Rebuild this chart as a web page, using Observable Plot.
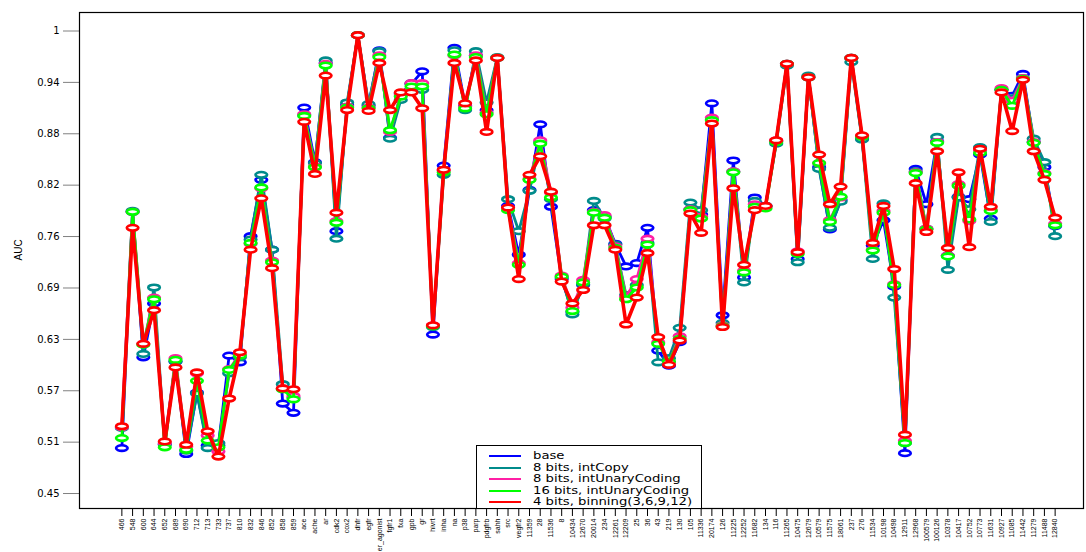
<!DOCTYPE html>
<html>
<head>
<meta charset="utf-8">
<script src="https://cdn.jsdelivr.net/npm/d3@7"></script>
<script src="https://cdn.jsdelivr.net/npm/@observablehq/plot@0.6"></script>
<style>
  html, body { margin: 0; padding: 0; background: #fff; }
  #wrap { position: relative; width: 1086px; height: 552px; overflow: hidden; }
  #legend { position: absolute; left: 476px; top: 445px; width: 224px; height: 62px;
    border: 1px solid #000; background: #fff; font-family: "DejaVu Sans", sans-serif; font-size: 10px; }
  #legend .row { position: absolute; left: 0; height: 11px; line-height: 11px; white-space: nowrap; }
  #legend .sw { position: absolute; left: 12px; top: 5px; width: 32px; height: 2px; }
  #legend .lab { position: absolute; left: 56px; top: 0; transform: scaleX(1.32); transform-origin: 0 50%; }
</style>
</head>
<body>
<div id="wrap"><div id="legend"></div></div>
<script>
const categories = ["466","548","600","644","652","689","690","712","713","733","737","810","832","846","852","858","859","ace","ache","ar","cdk2","cox2","dhfr","egfr","er_agonist","fgfr1","fxa","gpb","gr","hivrt","inha","na","p38","parp","pdgfrb","sahh","src","vegfr2","11359","28","11536","8","10434","12670","20014","234","12261","12209","25","36","43","219","130","105","11336","20174","126","11225","12252","11682","134","116","11265","10475","12679","10579","11575","18061","237","276","11534","10198","10498","12911","12968","100579","100126","10378","10417","10752","10773","11631","10927","11085","11442","11279","11488","12840"];

const seriesNames = ["base", "8 bits, intCopy", "8 bits, intUnaryCoding", "16 bits, intUnaryCoding", "4 bits, binning(3,6,9,12)"];
const seriesColors = ["#0000ff", "#008b8b", "#ff1fa5", "#00ff00", "#ff0000"];

const base = [0.504,0.785,0.612,0.676,0.509,0.607,0.497,0.570,0.507,0.507,0.614,0.606,0.756,0.823,0.740,0.557,0.546,0.909,0.844,0.962,0.762,0.912,0.995,0.911,0.977,0.873,0.926,0.937,0.952,0.639,0.840,0.980,0.911,0.971,0.906,0.968,0.792,0.734,0.811,0.889,0.791,0.705,0.666,0.698,0.787,0.779,0.747,0.720,0.724,0.766,0.620,0.602,0.630,0.788,0.782,0.914,0.662,0.846,0.707,0.802,0.792,0.869,0.961,0.729,0.945,0.838,0.764,0.799,0.968,0.872,0.745,0.775,0.696,0.498,0.836,0.794,0.869,0.733,0.803,0.800,0.853,0.777,0.930,0.923,0.949,0.868,0.838,0.768];
const intCopy8 = [0.528,0.786,0.616,0.695,0.508,0.607,0.501,0.569,0.504,0.510,0.593,0.612,0.752,0.829,0.740,0.580,0.564,0.900,0.843,0.965,0.753,0.915,0.995,0.913,0.976,0.872,0.918,0.938,0.930,0.648,0.829,0.977,0.906,0.976,0.915,0.969,0.800,0.762,0.810,0.868,0.800,0.707,0.663,0.699,0.798,0.777,0.746,0.686,0.698,0.748,0.606,0.611,0.647,0.796,0.787,0.895,0.653,0.833,0.701,0.798,0.792,0.866,0.959,0.725,0.947,0.836,0.766,0.797,0.963,0.871,0.729,0.795,0.683,0.510,0.833,0.765,0.874,0.716,0.802,0.788,0.862,0.773,0.930,0.920,0.944,0.872,0.844,0.756];
const unary8 = [0.529,0.785,0.628,0.683,0.510,0.611,0.506,0.593,0.519,0.500,0.598,0.615,0.747,0.813,0.727,0.575,0.566,0.901,0.839,0.961,0.774,0.910,0.995,0.909,0.971,0.880,0.924,0.938,0.938,0.650,0.834,0.971,0.910,0.971,0.903,0.968,0.790,0.724,0.824,0.870,0.808,0.709,0.671,0.704,0.785,0.781,0.744,0.684,0.705,0.753,0.630,0.606,0.637,0.788,0.779,0.897,0.650,0.833,0.715,0.794,0.791,0.870,0.961,0.738,0.945,0.843,0.775,0.802,0.968,0.875,0.740,0.786,0.699,0.513,0.832,0.765,0.868,0.733,0.818,0.774,0.858,0.787,0.932,0.917,0.944,0.868,0.831,0.771];
const unary16 = [0.516,0.785,0.627,0.681,0.505,0.609,0.502,0.584,0.513,0.505,0.597,0.614,0.748,0.814,0.725,0.574,0.562,0.899,0.838,0.959,0.772,0.909,0.995,0.908,0.969,0.882,0.922,0.934,0.934,0.649,0.832,0.972,0.908,0.969,0.901,0.968,0.787,0.722,0.823,0.866,0.802,0.708,0.667,0.701,0.784,0.778,0.742,0.681,0.695,0.746,0.628,0.607,0.634,0.787,0.777,0.894,0.649,0.832,0.713,0.791,0.789,0.868,0.961,0.735,0.945,0.843,0.773,0.803,0.968,0.874,0.739,0.784,0.698,0.510,0.831,0.764,0.867,0.732,0.816,0.776,0.855,0.786,0.930,0.911,0.943,0.867,0.830,0.769];
const binning4 = [0.530,0.766,0.628,0.668,0.512,0.600,0.508,0.594,0.524,0.494,0.563,0.618,0.740,0.801,0.718,0.575,0.574,0.892,0.830,0.947,0.784,0.906,0.995,0.905,0.962,0.906,0.927,0.927,0.908,0.650,0.835,0.962,0.914,0.965,0.880,0.968,0.790,0.705,0.829,0.851,0.809,0.702,0.676,0.692,0.769,0.769,0.740,0.651,0.683,0.736,0.636,0.603,0.632,0.783,0.760,0.890,0.648,0.813,0.722,0.787,0.792,0.870,0.961,0.737,0.945,0.853,0.794,0.815,0.968,0.876,0.748,0.792,0.717,0.520,0.819,0.761,0.857,0.742,0.832,0.743,0.860,0.791,0.927,0.881,0.942,0.857,0.823,0.778];

const yTicks = [0.45, 0.5111, 0.5722, 0.6333, 0.6944, 0.7556, 0.8167, 0.8778, 0.9389, 1];
const yTickLabels = ["0.45", "0.51", "0.57", "0.63", "0.69", "0.76", "0.82", "0.88", "0.94", "1"];
const yLabel = "AUC";

const allSeries = [base, intCopy8, unary8, unary16, binning4];
const rows = allSeries.map((vals, s) => vals.map((v, i) => ({series: seriesNames[s], cat: categories[i], value: v})));

const ellipse = {
  draw(ctx, size) {
    const r = Math.sqrt(size / Math.PI);
    const rx = r * 1.45, ry = r * 0.7, k = 0.5523;
    ctx.moveTo(rx, 0);
    ctx.bezierCurveTo(rx, ry * k, rx * k, ry, 0, ry);
    ctx.bezierCurveTo(-rx * k, ry, -rx, ry * k, -rx, 0);
    ctx.bezierCurveTo(-rx, -ry * k, -rx * k, -ry, 0, -ry);
    ctx.bezierCurveTo(rx * k, -ry, rx, -ry * k, rx, 0);
    ctx.closePath();
  }
};

const marks = [];
rows.forEach((data, s) => {
  const w = s === 4 ? 3.6 : 2.8;
  marks.push(Plot.line(data, {x: "cat", y: "value", stroke: seriesColors[s], strokeWidth: w, strokeLinejoin: "round"}));
  marks.push(Plot.dot(data, {x: "cat", y: "value", r: 4, symbol: ellipse, stroke: seriesColors[s], fill: "white", strokeWidth: 2.6}));
});

const chart = Plot.plot({
  width: 1086,
  height: 552,
  marginLeft: 79,
  marginRight: 3,
  marginTop: 12,
  marginBottom: 44,
  style: {fontFamily: "DejaVu Sans, sans-serif", fontSize: "10px", background: "white", overflow: "visible"},
  x: {type: "point", domain: categories, range: [116, 1060]},
  y: {domain: [0.4322, 1.022]},
  marks: [
    Plot.axisY({ticks: yTicks, tickSize: 16, tickPadding: 4, tickFormat: d => yTickLabels[yTicks.indexOf(d)], stroke: "#808080", fill: "#000", fontSize: 10, label: null}),
    Plot.axisX({tickRotate: -90, tickSize: 8, tickPadding: 2, fontSize: 7, fontFamily: "Liberation Sans Narrow, Liberation Sans, sans-serif", stroke: "#000", label: null}),
    Plot.text([yLabel], {frameAnchor: "left", dx: -61, rotate: -90, fontSize: 10, fontFamily: "Liberation Sans Narrow, Liberation Sans, sans-serif"}),
    ...marks,
    Plot.frame({stroke: "#000", strokeWidth: 1.2})
  ]
});
document.getElementById("wrap").prepend(chart);

const legend = document.getElementById("legend");
seriesNames.forEach((name, s) => {
  const row = document.createElement("div");
  row.className = "row";
  row.style.top = (4 + s * 11.5) + "px";
  row.style.width = "100%";
  row.innerHTML = `<span class="sw" style="background:${seriesColors[s]}"></span><span class="lab">${name}</span>`;
  legend.appendChild(row);
});
</script>
</body>
</html>
